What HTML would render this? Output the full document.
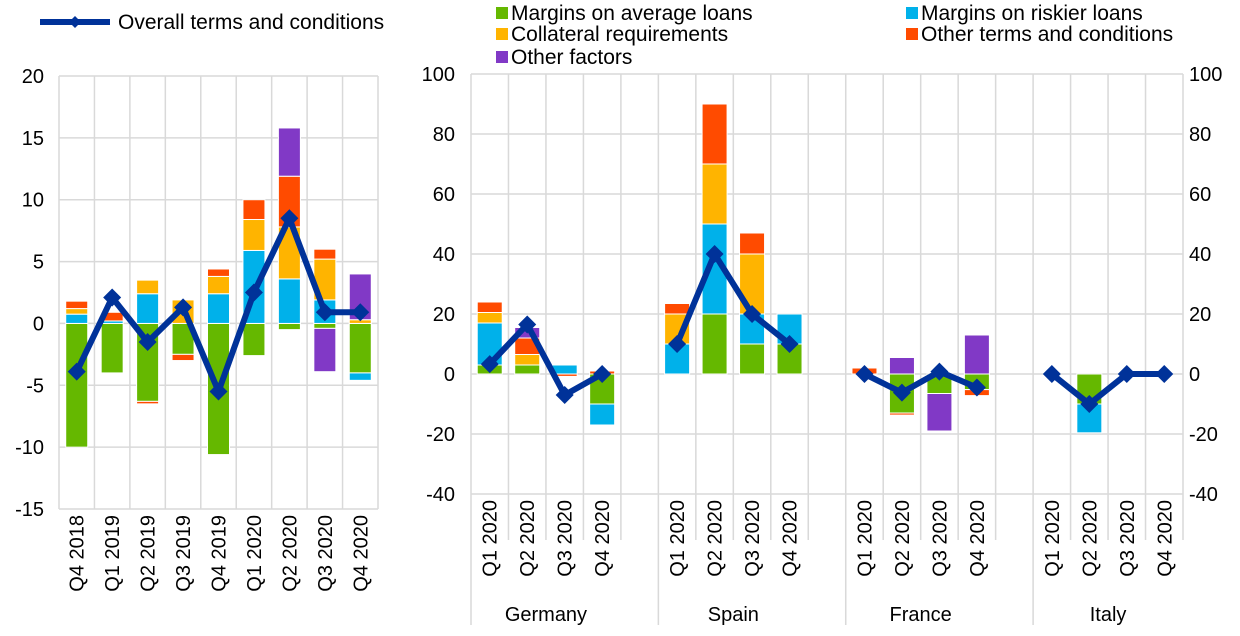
<!DOCTYPE html>
<html><head><meta charset="utf-8"><style>
body{margin:0;background:#fff;font-family:"Liberation Sans",Arial,sans-serif}
svg{display:block}
text{font-family:"Liberation Sans",Arial,sans-serif;fill:#000}
</style></head><body>
<svg id="c" width="1240" height="636"></svg>
<script>
// Left chart data
const leftCats=["Q4 2018","Q1 2019","Q2 2019","Q3 2019","Q4 2019","Q1 2020","Q2 2020","Q3 2020","Q4 2020"];
const leftGreen=[-10,-4,-6.3,-2.5,-10.6,-2.6,-0.5,-0.4,-4];
const leftBlue=[0.75,0.2,2.4,0,2.4,5.9,3.6,1.9,-0.6];
const leftYellow=[0.45,0,1.1,1.9,1.4,2.5,4.2,3.3,0.3];
const leftRed=[0.6,0.7,-0.2,-0.5,0.6,1.6,4.1,0.8,0];
const leftPurple=[0,0,0,0,0,0,3.9,-3.5,3.7];
const leftLine=[-3.9,2.1,-1.5,1.3,-5.5,2.5,8.5,0.9,0.9];
const leftTicks=[20,15,10,5,0,-5,-10,-15];
// Right chart data
const rightCats=["Q1 2020","Q2 2020","Q3 2020","Q4 2020"];
const countries=["Germany","Spain","France","Italy"];
const rightGreen=[3,3,0,-10, 0,20,10,10, 0,-13,-6.5,-5.2, 0,-10,0,0];
const rightBlue=[14,0,3,-7, 10,30,10,10, 0,0,0,0, 0,-9.6,0,0];
const rightYellow=[3.5,3.5,0,0, 10,20,20,0, 0,0,0,0, 0,0,0,0];
const rightRed=[3.5,5.5,-0.8,1, 3.5,20,7,0, 2,-0.7,0,-2, 0,0,0,0];
const rightPurple=[0,3.5,0,0, 0,0,0,0, 0,5.5,-12.5,13, 0,0,0,0];
const rightLine=[3.3,16.5,-7,0, 10,40,20,10, 0,-6.2,0.8,-4.5, 0,-10,0,0];
const rightTicks=[100,80,60,40,20,0,-20,-40];

const colors={green:"#65b800",blue:"#00b1ea",yellow:"#ffb400",red:"#ff4b00",purple:"#8139c6",line:"#003299"};
const NS="http://www.w3.org/2000/svg";
const svg=document.getElementById("c");
function mk(tag,attrs,parent){const e=document.createElementNS(NS,tag);for(const k in attrs)e.setAttribute(k,attrs[k]);(parent||svg).appendChild(e);return e;}

const L={x0:59,x1:378,top:76,bot:509,min:-15,max:20};
const ly=v=>L.top+(L.max-v)*(L.bot-L.top)/(L.max-L.min);
const lw=(L.x1-L.x0)/leftCats.length;
const lx=i=>L.x0+lw*(i+0.5);
const R={x0:471,x1:1183,top:74,bot:494,min:-40,max:100};
const ry=v=>R.top+(R.max-v)*(R.bot-R.top)/(R.max-R.min);
const rw=(R.x1-R.x0)/19;
const slot=i=>Math.floor(i/4)*5+(i%4);
const rx=i=>R.x0+rw*(slot(i)+0.5);

const grid="#d9d9d9";
const FS=20;
leftTicks.forEach(t=>{
  const l=mk("line",{x1:L.x0,x2:L.x1,y1:ly(t),y2:ly(t),stroke:grid,"stroke-width":1.5});
  
  
  const tx=mk("text",{x:44,y:ly(t)+7,"text-anchor":"end","font-size":FS});
  tx.textContent=t;
  
  
});
for(let i=0;i<=leftCats.length;i++){
  const x=L.x0+lw*i;
  const l=mk("line",{x1:x,x2:x,y1:L.top,y2:L.bot,stroke:grid,"stroke-width":1.5});
  
  
}
rightTicks.forEach(t=>{
  const l=mk("line",{x1:R.x0,x2:R.x1,y1:ry(t),y2:ry(t),stroke:grid,"stroke-width":1.5});
  
  
  const a=mk("text",{x:455,y:ry(t)+7,"text-anchor":"end","font-size":FS});
  a.textContent=t;
  
  
  const b=mk("text",{x:1189,y:ry(t)+7,"text-anchor":"start","font-size":FS});
  b.textContent=t;
  
  
});
for(let s=0;s<=19;s++){
  const x=R.x0+rw*s;
  const grp=(s%5===0);
  const l=mk("line",{x1:x,x2:x,y1:R.top,y2:grp?625:540,stroke:grid,"stroke-width":1.5});
  
  
}

function stack(series,names,xf,yf,n,bw,prefix){
  for(let i=0;i<n;i++){
    let pos=0,neg=0;
    series.forEach((arr,k)=>{
      const v=arr[i]; if(!v) return;
      let a,b;
      if(v>0){a=pos;b=pos+v;pos=b;}else{a=neg;b=neg+v;neg=b;}
      const y1=yf(Math.max(a,b)),y2=yf(Math.min(a,b));
      const r=mk("rect",{x:xf(i)-bw/2,y:y1,width:bw,height:Math.max(0.5,y2-y1),fill:colors[names[k]],stroke:"#fff","stroke-width":1});
      
      
    });
  }
}
const names=["green","blue","yellow","red","purple"];
stack([leftGreen,leftBlue,leftYellow,leftRed,leftPurple],names,lx,ly,leftCats.length,22,'left');
stack([rightGreen,rightBlue,rightYellow,rightRed,rightPurple],names,rx,ry,16,25,'right');

function line(vals,xf,yf,idxs,prefix){
  const pts=idxs.map(i=>xf(i)+","+yf(vals[i])).join(" ");
  const p=mk("polyline",{points:pts,fill:"none",stroke:colors.line,"stroke-width":6,"stroke-linejoin":"miter"});
  
  
  idxs.forEach(i=>{
    const x=xf(i),y=yf(vals[i]);
    const m=mk("polygon",{points:`${x},${y-9} ${x+9},${y} ${x},${y+9} ${x-9},${y}`,fill:colors.line});
    
    
  });
}
line(leftLine,lx,ly,leftCats.map((_,i)=>i),'left');
for(let g=0;g<4;g++) line(rightLine,rx,ry,[g*4,g*4+1,g*4+2,g*4+3],'right-'+countries[g].toLowerCase());

leftCats.forEach((c,i)=>{
  const x=lx(i)+7,y=515;
  const t=mk("text",{x:x,y:y,"font-size":FS,"text-anchor":"end",transform:`rotate(-90 ${x} ${y})`});
  t.textContent=c;
  
  
});
for(let i=0;i<16;i++){
  const x=rx(i)+7,y=500;
  const t=mk("text",{x:x,y:y,"font-size":FS,"text-anchor":"end",transform:`rotate(-90 ${x} ${y})`});
  t.textContent=rightCats[i%4];
  
  
}
countries.forEach((c,g)=>{
  const x=R.x0+rw*(g*5+2);
  const t=mk("text",{x:x,y:621,"font-size":FS,"text-anchor":"middle"});
  t.textContent=c;
  
  
});

const ll=mk("line",{x1:40,x2:110,y1:22,y2:22,stroke:colors.line,"stroke-width":6});


const lm=mk("polygon",{points:"75,16 81,22 75,28 69,22",fill:colors.line});


const lt=mk("text",{x:118,y:29,"font-size":21});
lt.textContent="Overall terms and conditions";


const leg=[["green","Margins on average loans",496,13],["blue","Margins on riskier loans",906,13],["yellow","Collateral requirements",496,34],["red","Other terms and conditions",906,34],["purple","Other factors",496,57]];
leg.forEach(([c,txt,x,y])=>{
  const r=mk("rect",{x:x,y:y-6,width:12,height:12,fill:colors[c]});
  
  
  const t=mk("text",{x:x+15,y:y+7,"font-size":21});
  t.textContent=txt;
  
  
});
</script>
</body></html>
